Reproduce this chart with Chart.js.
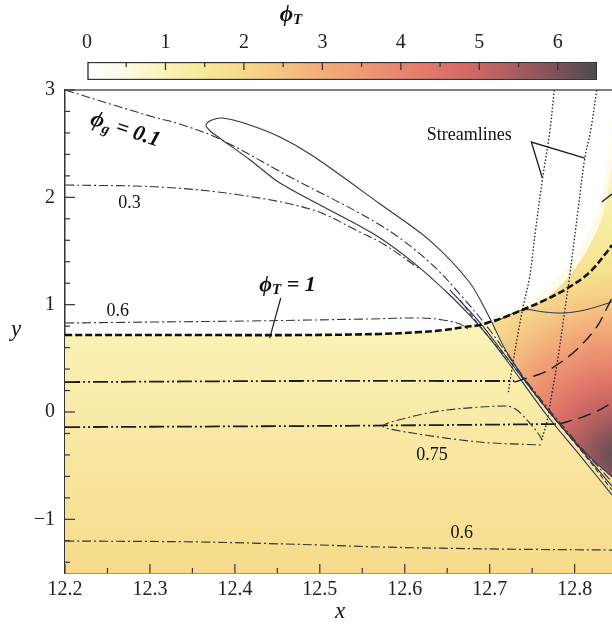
<!DOCTYPE html>
<html>
<head>
<meta charset="utf-8">
<script src="https://cdn.jsdelivr.net/npm/chart.js@4.4.1/dist/chart.umd.min.js"></script>
<style>
  html, body { margin: 0; padding: 0; background: #fff; }
  #wrap { position: relative; width: 612px; height: 628px; }
  #main, #bar { position: absolute; left: 0; top: 0; }
</style>
</head>
<body>
<div id="wrap">
  <canvas id="main" width="612" height="628"></canvas>
  <canvas id="bar" width="612" height="82"></canvas>
</div>
<script>
const SERIF = "'Liberation Serif', 'DejaVu Serif', serif";

// colour scale of phi_T
const cmapValues = [0, 0.5, 1, 1.5, 2, 2.5, 3, 3.5, 4, 4.5, 5, 5.5, 6, 6.5];
const cmapColors = ['#ffffff', '#fefbe6', '#fbf2b6', '#f8e898', '#f7d98a', '#f5c382', '#f3ad7a',
                    '#ef9a75', '#e9866f', '#df7368', '#cc6663', '#a85b5f', '#7a5259', '#4d4b4e'];

// phi_T shading
const preShockEdge = [[12.2, 0.717], [12.476, 0.717], [12.571, 0.727], [12.618, 0.745], [12.647, 0.764],
                      [12.671, 0.792], [12.688, 0.81], [12.703, 0.85], [12.72, 0.559], [12.759, 0.112],
                      [12.809, -0.354], [12.844, -0.606]];
const preShockPhi = [1.0, 1.95];            // at the top of the zone, at y = -1.5
const postShockEdge = [[12.7, 0.838], [12.741, 0.95], [12.776, 1.118], [12.806, 1.397], [12.829, 1.742],
                       [12.838, 2.022], [12.844, 2.301]];
const haloEdge = [[12.7, 0.876], [12.747, 1.043], [12.788, 1.322], [12.818, 1.696], [12.833, 2.068],
                  [12.841, 2.441], [12.844, 2.72]];
const haloPhi = 0.45;
const postShockCentre = [12.85, -0.401];
const postShockRadius = 3.07;
const postShockStops = [0, 0.07, 0.14, 0.22, 0.3, 0.38, 0.46, 0.54, 0.64, 0.78, 0.9, 1];
const postShockPhi = [6.3, 5.8, 5.2, 4.5, 3.8, 3.1, 2.4, 1.85, 1.45, 1.1, 0.85, 0.6];

// contour lines
const phiT1 = [[12.2, 0.717], [12.359, 0.717], [12.476, 0.717], [12.571, 0.727], [12.618, 0.745],
               [12.647, 0.764], [12.671, 0.792], [12.688, 0.81], [12.7, 0.838], [12.718, 0.885],
               [12.741, 0.96], [12.765, 1.043], [12.794, 1.165], [12.818, 1.304], [12.838, 1.491], [12.844, 1.556]];
const phiG01 = [[12.2, 3.0], [12.304, 2.748], [12.335, 2.683], [12.382, 2.544], [12.465, 2.189],
                [12.571, 1.742], [12.629, 1.397], [12.671, 1.043], [12.7, 0.764], [12.747, 0.251],
                [12.8, -0.262], [12.844, -0.652]];
const phiG03 = [[12.2, 2.115], [12.312, 2.096], [12.406, 2.022], [12.492, 1.882], [12.547, 1.677],
                [12.576, 1.56], [12.618, 1.33]];
const phiG06a = [[12.2, 0.829], [12.3, 0.838], [12.418, 0.848], [12.555, 0.866], [12.618, 0.876],
                 [12.645, 0.857], [12.665, 0.82], [12.676, 0.764]];
const phiG06b = [[12.2, -1.202], [12.359, -1.211], [12.5, -1.239], [12.571, -1.258], [12.712, -1.277], [12.844, -1.286]];
const phiG075 = [[12.762, -0.262], [12.756, -0.187], [12.744, -0.075], [12.732, 0.018], [12.72, 0.056],
                 [12.649, 0.018], [12.606, -0.047], [12.574, -0.131], [12.609, -0.196], [12.688, -0.28], [12.762, -0.308]];
const shockLoop = [[12.844, -0.773], [12.806, -0.401], [12.767, -0.028], [12.724, 0.438], [12.7, 0.689],
                   [12.676, 0.904], [12.653, 1.09], [12.618, 1.341], [12.571, 1.621], [12.512, 1.88],
                   [12.453, 2.133], [12.418, 2.348], [12.382, 2.553], [12.371, 2.618], [12.366, 2.674],
                   [12.373, 2.72], [12.385, 2.739], [12.414, 2.683], [12.453, 2.562], [12.492, 2.385],
                   [12.571, 1.938], [12.629, 1.602], [12.676, 1.211], [12.7, 0.876], [12.72, 0.559],
                   [12.759, 0.112], [12.809, -0.354], [12.844, -0.606]];
const shockInner1 = [[12.653, 1.137], [12.688, 0.838], [12.718, 0.531], [12.759, 0.112], [12.806, -0.335], [12.844, -0.69]];
const shockInner2 = [[12.665, 1.043], [12.694, 0.745], [12.724, 0.466], [12.765, 0.047], [12.812, -0.401], [12.844, -0.727]];
const rightSolid = [[12.706, 0.838], [12.739, 0.95], [12.765, 0.931], [12.786, 0.922], [12.812, 0.95], [12.844, 1.025]];
const level1Up = [[12.2, 0.279], [12.476, 0.289], [12.653, 0.289], [12.729, 0.289]];
const level1Down = [[12.729, 0.279], [12.762, 0.363], [12.779, 0.438], [12.802, 0.578], [12.826, 0.792],
                    [12.838, 0.969], [12.844, 1.062]];
const level2Up = [[12.2, -0.141], [12.476, -0.131], [12.653, -0.121], [12.782, -0.112]];
const level2Down = [[12.782, -0.112], [12.809, -0.047], [12.829, 0.018], [12.844, 0.084]];
const level3Down = [[12.832, 1.957], [12.844, 2.031]];
const stream1 = [[12.776, 3.0], [12.771, 2.627], [12.762, 2.161], [12.754, 1.696], [12.747, 1.258],
                 [12.739, 0.969], [12.732, 0.671], [12.726, 0.391], [12.722, 0.186]];
const stream2 = [[12.826, 3.0], [12.819, 2.627], [12.812, 2.366], [12.804, 1.882], [12.794, 1.258],
                 [12.788, 0.922], [12.78, 0.484], [12.774, 0.205], [12.767, -0.103], [12.761, -0.262]];
const phiT1Leader = [[12.454, 1.062], [12.441, 0.689]];
const streamLeader = [[12.762, 2.18], [12.749, 2.515], [12.812, 2.366]];

// plain labels
const noteText = ['0.3', '0.6', '0.75', '0.6', 'Streamlines'];
const noteX = [12.276, 12.262, 12.632, 12.667, 12.676];
const noteY = [1.947, 0.941, -0.401, -1.128, 2.581];

function hexToRgb(h) {
    return [parseInt(h.slice(1, 3), 16), parseInt(h.slice(3, 5), 16), parseInt(h.slice(5, 7), 16)];
}

function cmap(v) {
    v = Math.max(cmapValues[0], Math.min(cmapValues[cmapValues.length - 1], v));
    let i = 0;
    while (i < cmapValues.length - 2 && v > cmapValues[i + 1]) i++;
    const t = (v - cmapValues[i]) / (cmapValues[i + 1] - cmapValues[i]);
    const a = hexToRgb(cmapColors[i]), b = hexToRgb(cmapColors[i + 1]);
    const c = a.map((x, k) => Math.round(x + (b[k] - x) * t));
    return 'rgb(' + c.join(',') + ')';
}

function xy(points) {
    return points.map(p => ({ x: p[0], y: p[1] }));
}

function curve(points, color, width, dash, extra) {
    return Object.assign({
        data: xy(points),
        showLine: true,
        borderColor: color,
        borderWidth: width,
        borderDash: dash,
        pointRadius: 0,
        tension: 0.35,
        fill: false,
        order: 1
    }, extra || {});
}

function area(points, fillColor, order, tension) {
    return {
        data: xy(points), showLine: true, pointRadius: 0, tension: tension,
        borderWidth: 0, borderColor: 'rgba(0,0,0,0)', fill: 'start',
        backgroundColor: fillColor, order: order
    };
}

function preShockFill(context) {
    const chart = context.chart;
    if (!chart.chartArea) return cmap(1.3);
    const ys = chart.scales.y;
    const g = chart.ctx.createLinearGradient(0, ys.getPixelForValue(0.72), 0, ys.getPixelForValue(-1.5));
    g.addColorStop(0, cmap(preShockPhi[0]));
    g.addColorStop(1, cmap(preShockPhi[1]));
    return g;
}

function postShockFill(context) {
    const chart = context.chart;
    if (!chart.chartArea) return cmap(1.5);
    const xs = chart.scales.x, ys = chart.scales.y;
    const cx = xs.getPixelForValue(postShockCentre[0]);
    const cy = ys.getPixelForValue(postShockCentre[1]);
    const r = Math.abs(ys.getPixelForValue(0) - ys.getPixelForValue(postShockRadius));
    const g = chart.ctx.createRadialGradient(cx, cy, 0, cx, cy, r);
    postShockStops.forEach((s, i) => g.addColorStop(s, cmap(postShockPhi[i])));
    return g;
}

// text with a subscript: parts = [text, size, yOffset]
function richText(ctx, parts, cx, cy, angle, style) {
    ctx.save();
    ctx.translate(cx, cy);
    ctx.rotate(angle || 0);
    ctx.textBaseline = 'middle';
    ctx.textAlign = 'left';
    ctx.fillStyle = '#111';
    let total = 0;
    parts.forEach(p => { ctx.font = style + ' ' + p[1] + 'px ' + SERIF; total += ctx.measureText(p[0]).width; });
    let xx = -total / 2;
    parts.forEach(p => {
        ctx.font = style + ' ' + p[1] + 'px ' + SERIF;
        ctx.fillText(p[0], xx, p[2]);
        xx += ctx.measureText(p[0]).width;
    });
    ctx.restore();
}

const isWhole = (v, step) => Math.abs(v / step - Math.round(v / step)) < 1e-6;

const BUNDLE = '#2a3352';
const INK = '#1c1c1c';
const DASHDOT = [9, 3, 2, 3];

const mainDecor = {
    id: 'mainDecor',
    afterDraw(chart) {
        const ctx = chart.ctx, box = chart.chartArea;
        const xs = chart.scales.x, ys = chart.scales.y;
        ctx.save();
        // frame top
        ctx.strokeStyle = '#555';
        ctx.lineWidth = 1.5;
        ctx.beginPath();
        ctx.moveTo(box.left, box.top);
        ctx.lineTo(box.right, box.top);
        ctx.stroke();
        // ticks pointing inwards
        ctx.strokeStyle = '#333';
        ctx.lineWidth = 1.2;
        xs.ticks.forEach(t => {
            const px = xs.getPixelForValue(t.value);
            const len = isWhole(t.value, 0.1) ? 9 : 5;
            ctx.beginPath();
            ctx.moveTo(px, box.bottom);
            ctx.lineTo(px, box.bottom - len);
            ctx.stroke();
        });
        ys.ticks.forEach(t => {
            const py = ys.getPixelForValue(t.value);
            const len = isWhole(t.value, 1) ? 10 : 5;
            ctx.beginPath();
            ctx.moveTo(box.left, py);
            ctx.lineTo(box.left + len, py);
            ctx.stroke();
        });
        // labels
        ctx.fillStyle = '#111';
        ctx.textAlign = 'center';
        ctx.textBaseline = 'middle';
        ctx.font = '18px ' + SERIF;
        noteText.forEach((s, i) => {
            ctx.fillText(s, xs.getPixelForValue(noteX[i]), ys.getPixelForValue(noteY[i]));
        });
        richText(ctx, [['ϕ', 23, 0], ['g', 15, 6], [' = 0.1', 22, 0]],
            xs.getPixelForValue(12.271), ys.getPixelForValue(2.627), 0.32, 'italic bold');
        richText(ctx, [['ϕ', 22, 0], ['T', 15, 5], [' = 1', 22, 0]],
            xs.getPixelForValue(12.462), ys.getPixelForValue(1.183), 0, 'italic bold');
        // axis titles
        ctx.font = 'italic 23px ' + SERIF;
        ctx.textAlign = 'center';
        ctx.fillText('x', xs.getPixelForValue(12.524), box.bottom + 39);
        ctx.fillText('y', 16, ys.getPixelForValue(0.76));
        ctx.restore();
    }
};

new Chart(document.getElementById('main'), {
    type: 'scatter',
    data: {
        datasets: [
            curve(phiT1, '#111', 2.6, [7, 3]),
            curve(shockLoop, BUNDLE, 1.1, [], { tension: 0.3 }),
            curve(shockInner1, BUNDLE, 1.1, []),
            curve(shockInner2, BUNDLE, 1.1, [5, 3]),
            curve(phiG01, '#333', 1.1, DASHDOT),
            curve(phiG03, '#333', 1.1, DASHDOT),
            curve(phiG06a, '#333', 1.1, DASHDOT),
            curve(phiG06b, '#333', 1.2, DASHDOT),
            curve(phiG075, '#333', 1.1, DASHDOT, { tension: 0.3 }),
            curve(rightSolid, BUNDLE, 1.0, []),
            curve(level1Up, INK, 1.8, [15, 3, 2, 3, 2, 3]),
            curve(level2Up, INK, 1.8, [15, 3, 2, 3, 2, 3]),
            curve(level1Down, INK, 1.4, [13, 7]),
            curve(level2Down, INK, 1.4, [13, 7]),
            curve(level3Down, INK, 1.4, [13, 7]),
            curve(stream1, INK, 1.3, [1.5, 2]),
            curve(stream2, INK, 1.3, [1.5, 2]),
            curve(phiT1Leader, INK, 1.2, [], { tension: 0 }),
            curve(streamLeader, INK, 1.3, [], { tension: 0 }),
            area(preShockEdge, preShockFill, 20, 0),
            area(postShockEdge, postShockFill, 21, 0.3),
            area(haloEdge, cmap(haloPhi), 22, 0.3)
        ]
    },
    options: {
        responsive: false,
        animation: false,
        devicePixelRatio: 1,
        layout: { padding: { top: 90, left: 0, right: 0, bottom: 0 } },
        scales: {
            x: {
                type: 'linear',
                min: 12.2,
                max: 12.844,
                afterFit: s => { s.height = 55; },
                ticks: {
                    stepSize: 0.05,
                    includeBounds: false,
                    autoSkip: false,
                    maxRotation: 0,
                    padding: 5,
                    color: '#222',
                    font: { family: SERIF, size: 20 },
                    callback: v => isWhole(v, 0.1) ? v.toFixed(1) : ''
                },
                grid: { drawOnChartArea: false, drawTicks: false },
                border: { color: '#333', width: 1.5 }
            },
            y: {
                type: 'linear',
                min: -1.5,
                max: 3,
                afterFit: s => { s.width = 65; },
                ticks: {
                    stepSize: 0.2,
                    includeBounds: false,
                    autoSkip: false,
                    padding: 10,
                    color: '#222',
                    font: { family: SERIF, size: 20 },
                    callback: v => isWhole(v, 1) ? String(Math.round(v)).replace('-', '\u2212') : ''
                },
                grid: { drawOnChartArea: false, drawTicks: false },
                border: { color: '#333', width: 1.5 }
            }
        },
        plugins: {
            legend: { display: false },
            tooltip: { enabled: false }
        }
    },
    plugins: [mainDecor]
});

// colour bar
function barFill(context) {
    const chart = context.chart;
    if (!chart.chartArea) return cmap(3);
    const xs = chart.scales.x;
    const x0 = xs.getPixelForValue(cmapValues[0]);
    const x1 = xs.getPixelForValue(cmapValues[cmapValues.length - 1]);
    const g = chart.ctx.createLinearGradient(x0, 0, x1, 0);
    cmapValues.forEach((v, i) => g.addColorStop(v / cmapValues[cmapValues.length - 1], cmapColors[i]));
    return g;
}

const barDecor = {
    id: 'barDecor',
    afterDraw(chart) {
        const ctx = chart.ctx, box = chart.chartArea, xs = chart.scales.x;
        ctx.save();
        ctx.strokeStyle = '#333';
        ctx.lineWidth = 1.3;
        xs.ticks.forEach(t => {
            const px = xs.getPixelForValue(t.value);
            if (t.value <= 0 || t.value >= 6.5) return;
            const len = isWhole(t.value, 1) ? 8 : 5;
            ctx.beginPath();
            ctx.moveTo(px, box.top);
            ctx.lineTo(px, box.top + len);
            ctx.stroke();
        });
        richText(ctx, [['ϕ', 23, 0], ['T', 15, 5]], xs.getPixelForValue(2.6), 15, 0, 'italic bold');
        ctx.restore();
    }
};

new Chart(document.getElementById('bar'), {
    type: 'bar',
    data: {
        labels: ['phiT'],
        datasets: [{
            data: [[cmapValues[0], cmapValues[cmapValues.length - 1]]],
            backgroundColor: barFill,
            borderColor: '#333',
            borderWidth: 1.5,
            borderSkipped: false,
            barPercentage: 1,
            categoryPercentage: 1
        }]
    },
    options: {
        indexAxis: 'y',
        responsive: false,
        animation: false,
        devicePixelRatio: 1,
        layout: { padding: { left: 87, right: 15, top: 0, bottom: 2 } },
        scales: {
            x: {
                position: 'top',
                min: 0,
                max: 6.5,
                afterFit: s => { s.height = 62; },
                ticks: {
                    stepSize: 0.5,
                    autoSkip: false,
                    maxRotation: 0,
                    padding: 7,
                    color: '#222',
                    font: { family: SERIF, size: 20 },
                    callback: v => isWhole(v, 1) ? String(Math.round(v)) : ''
                },
                grid: { drawOnChartArea: false, drawTicks: false },
                border: { display: false }
            },
            y: { display: false }
        },
        plugins: {
            legend: { display: false },
            tooltip: { enabled: false }
        }
    },
    plugins: [barDecor]
});
</script>
</body>
</html>
